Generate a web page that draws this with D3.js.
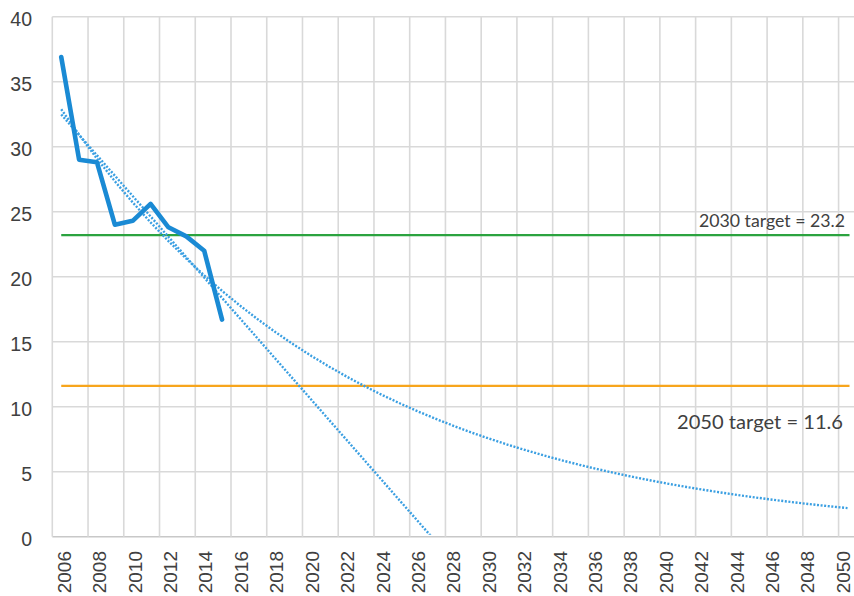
<!DOCTYPE html>
<html lang="en">

<head>
  <meta charset="utf-8">
  <title>Emissions trend</title>
  <script src="https://cdn.jsdelivr.net/npm/d3@7/dist/d3.min.js"></script>
  <style>
    body {
      margin: 0;
      background: #fff;
    }

    svg {
      display: block;
    }
  </style>
</head>

<body>
  <div id="chart"></div>

  <script type="text/javascript">
    // values
    var years = d3.range(2006, 2051);
    var actualYears = [2006, 2007, 2008, 2009, 2010, 2011, 2012, 2013, 2014, 2015];
    var actualValues = [36.9, 29.0, 28.8, 24.0, 24.3, 25.6, 23.8, 23.1, 22.0, 16.7];
    var yTicks = [0, 5, 10, 15, 20, 25, 30, 35, 40];
    var xLabels = d3.range(2006, 2051, 2);
    var targets = [
      { label: '2030 target = 23.2', value: 23.2, color: '#2ba33f' },
      { label: '2050 target = 11.6', value: 11.6, color: '#f7a51c' }
    ];

    var width = 854;
    var height = 596;
    var plotLeft = 52.3;
    var yearStep = 17.87;

    var svg = d3.select('#chart')
      .append('svg')
      .attr('width', width)
      .attr('height', height);

    var x = d3.scaleBand()
      .domain(years)
      .range([plotLeft, plotLeft + years.length * yearStep])
      .padding(0);
    var cx = function (yr) { return x(yr) + x.bandwidth() / 2; };

    // tick labels sit a touch off the category centres in the picture
    var xLab = d3.scalePoint()
      .domain(xLabels)
      .range([64, 843]);

    var y = d3.scaleLinear()
      .domain([0, 40])
      .range([536.7, 16.7]);

    // grid
    var grid = svg.append('g');
    grid.selectAll('.hgrid')
      .data(yTicks)
      .enter()
      .append('line')
      .attr('x1', plotLeft)
      .attr('x2', width)
      .attr('y1', function (d) { return y(d); })
      .attr('y2', function (d) { return y(d); })
      .style('stroke', function (d) { return d === 0 ? '#c8c8c8' : '#d9d9d9'; })
      .style('stroke-width', 1.6);

    grid.selectAll('.vgrid')
      .data(xLabels)
      .enter()
      .append('line')
      .attr('x1', function (d) { return x(d); })
      .attr('x2', function (d) { return x(d); })
      .attr('y1', y(40))
      .attr('y2', y(0))
      .style('stroke', '#d9d9d9')
      .style('stroke-width', 1.6);

    // y labels
    svg.append('g')
      .selectAll('text')
      .data(yTicks)
      .enter()
      .append('text')
      .attr('x', 32)
      .attr('y', function (d) { return y(d); })
      .attr('dy', '0.47em')
      .attr('text-anchor', 'end')
      .style('font-family', '"Liberation Sans", Arial, sans-serif')
      .style('font-size', '19.5px')
      .style('fill', '#404040')
      .text(function (d) { return d; });

    // x labels, rotated
    svg.append('g')
      .selectAll('text')
      .data(xLabels)
      .enter()
      .append('text')
      .attr('transform', function (d) { return 'translate(' + xLab(d) + ',551) rotate(-90)'; })
      .attr('dy', '0.36em')
      .attr('text-anchor', 'end')
      .style('font-family', '"Liberation Sans", Arial, sans-serif')
      .style('font-size', '19px')
      .style('fill', '#404040')
      .text(function (d) { return d; });

    // target lines
    svg.append('g')
      .selectAll('line')
      .data(targets)
      .enter()
      .append('line')
      .attr('x1', cx(2006))
      .attr('x2', cx(2050) + 2)
      .attr('y1', function (d) { return y(d.value); })
      .attr('y2', function (d) { return y(d.value); })
      .style('stroke', function (d) { return d.color; })
      .style('stroke-width', 2.2);

    var labelFont = 'Lato, "Open Sans", sans-serif';
    svg.append('text')
      .attr('x', 845)
      .attr('y', 226.7)
      .attr('text-anchor', 'end')
      .attr('textLength', 146)
      .attr('lengthAdjust', 'spacingAndGlyphs')
      .style('font-family', labelFont)
      .style('font-size', '17.5px')
      .style('fill', '#404040')
      .text(targets[0].label);

    svg.append('text')
      .attr('x', 843)
      .attr('y', 429)
      .attr('text-anchor', 'end')
      .attr('textLength', 166)
      .attr('lengthAdjust', 'spacingAndGlyphs')
      .style('font-family', labelFont)
      .style('font-size', '20px')
      .style('fill', '#404040')
      .text(targets[1].label);

    // least-squares trend lines (linear and exponential), like the spreadsheet does
    var idx = actualYears.map(function (d) { return d - 2006; });
    function fit(vals) {
      var mx = d3.mean(idx), my = d3.mean(vals);
      var sxy = d3.sum(idx, function (d, i) { return (d - mx) * (vals[i] - my); });
      var sxx = d3.sum(idx, function (d) { return (d - mx) * (d - mx); });
      var b = sxy / sxx;
      return { a: my - b * mx, b: b };
    }
    var lin = fit(actualValues);
    var ex = fit(actualValues.map(Math.log));

    var linearTrend = years.map(function (yr) { return [yr, lin.a + lin.b * (yr - 2006)]; });
    var expTrend = years.map(function (yr) { return [yr, Math.exp(ex.a + ex.b * (yr - 2006))]; });

    svg.append('clipPath')
      .attr('id', 'plotClip')
      .append('rect')
      .attr('x', plotLeft)
      .attr('y', y(40))
      .attr('width', width - plotLeft)
      .attr('height', y(0) - y(40) - 2);

    var trendLine = d3.line()
      .x(function (d) { return cx(d[0]); })
      .y(function (d) { return y(d[1]); });

    svg.append('g')
      .attr('clip-path', 'url(#plotClip)')
      .selectAll('path')
      .data([linearTrend, expTrend])
      .enter()
      .append('path')
      .attr('d', trendLine)
      .style('fill', 'none')
      .style('stroke', '#3a9fe2')
      .style('stroke-width', 2.4)
      .style('stroke-dasharray', '2,1.6');

    // actual series
    var series = actualYears.map(function (yr, i) { return [yr, actualValues[i]]; });
    svg.append('path')
      .datum(series)
      .attr('d', trendLine)
      .style('fill', 'none')
      .style('stroke', '#1a8ad4')
      .style('stroke-width', 4.6)
      .style('stroke-linejoin', 'round')
      .style('stroke-linecap', 'round');
  </script>
</body>

</html>
